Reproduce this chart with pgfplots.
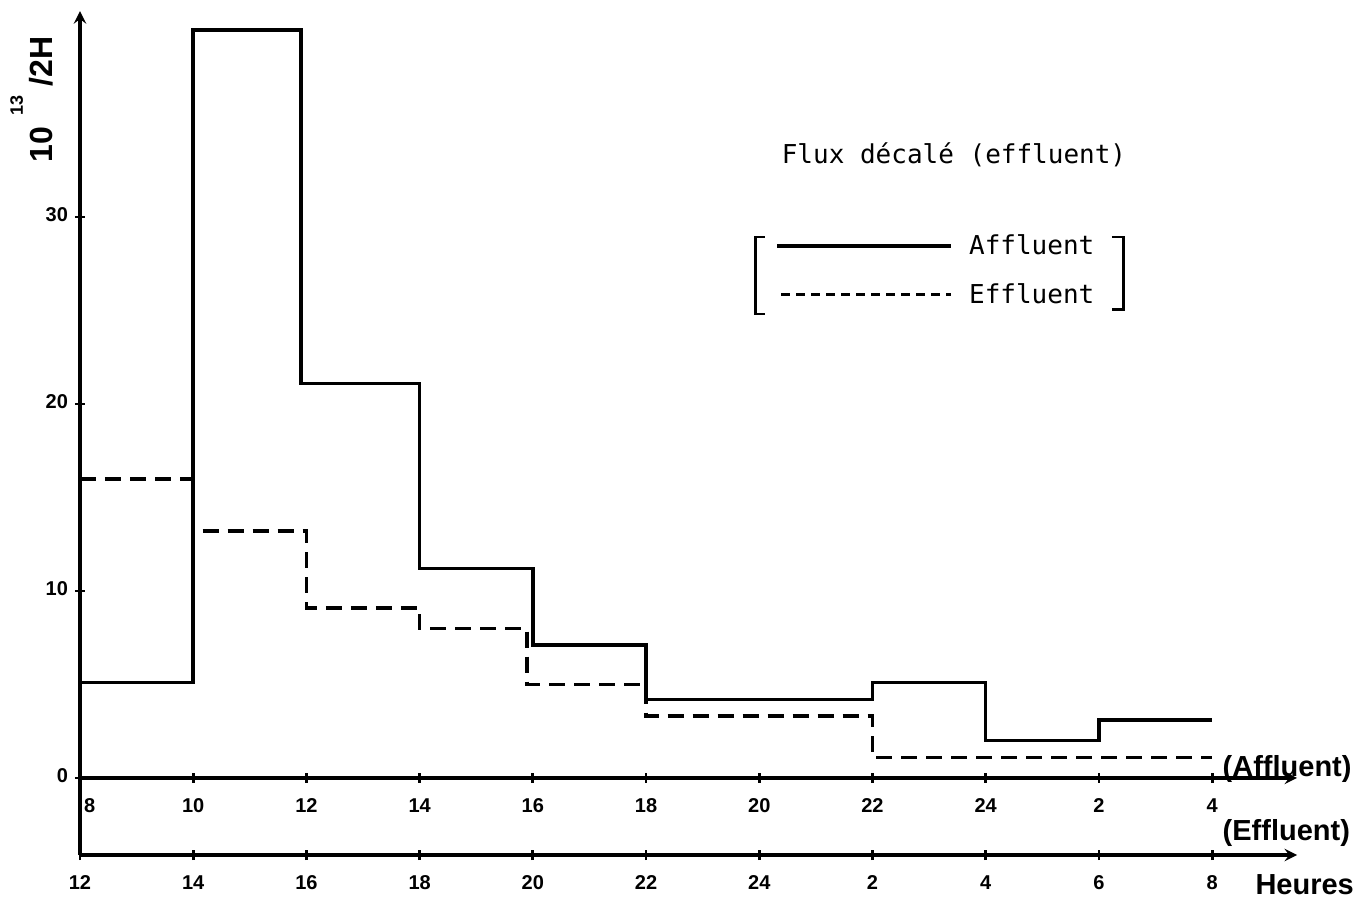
\documentclass[border=0pt]{standalone}
\usepackage{fontspec}
\setmainfont{Liberation Sans}
\newfontfamily\monof{DejaVu Sans Mono}
\usepackage{pgfplots}
\pgfplotsset{compat=1.18}
\usetikzlibrary{arrows.meta}
\begin{document}
\begin{tikzpicture}
\pgfplotsset{common/.style={
  scale only axis, width=608.5pt, height=421.9pt,
  xmin=0, xmax=21.5, ymin=-4.12, ymax=41,
  at={(0,0)}, anchor=south west, clip=false,
  axis line style={line width=1.7pt, -{Latex[length=11pt,width=6pt]}},
  tick style={line width=1.4pt, black}, major tick length=5pt, tick align=outside,
  ticklabel style={font=\fontsize{10}{12}\selectfont\bfseries},
  typeset ticklabels with strut,
  xticklabel shift=3pt,
  /pgf/number format/assume math mode=true,
  xtick={0,2,...,20},
  hide obscured x ticks=false, hide obscured y ticks=false,
}}
\begin{axis}[common,
  axis y line=left, axis x line=middle,
  xticklabels={\makebox[0pt][l]{\hspace{2pt}8},10,12,14,16,18,20,22,24,2,4},
  ytick={0,10,20,30},
  const plot,
  legend style={at={(axis cs:12.28,29.3)}, anchor=north west, draw=none, fill=none,
    font=\monof\fontsize{13}{15}\selectfont, row sep=9pt, inner sep=0pt},
  legend cell align=left,
  legend image code/.code={\draw[#1] (0pt,0pt) -- (87pt,0pt); \path (93pt,0pt);},
]
\addplot[black, line width=1.8pt] coordinates {
 (0,5.1) (2,40) (3.9,21.1) (6,11.2) (8,7.1) (10,4.2) (14,5.1) (16,2.0) (18,3.1) (20,3.1)};
\addlegendentry{Affluent}
\addplot[black, line width=1.8pt, dash pattern=on 8pt off 4.5pt,
  legend image code/.code={\draw[black, line width=1.6pt, dash pattern=on 4.5pt off 3pt] (2pt,0pt) -- (87pt,0pt); \path (93pt,0pt);}] coordinates {
 (0,16) (2,13.2) (4,9.1) (6,8.0) (7.9,5.0) (10,3.3) (14,1.1) (20,1.1)};
\addlegendentry{Effluent}
\draw[line width=1.4pt] (axis cs:12.10,28.93) -- (axis cs:11.93,28.93) -- (axis cs:11.93,24.81) -- (axis cs:12.10,24.81);
\draw[line width=1.4pt] (axis cs:18.23,28.93) -- (axis cs:18.43,28.93) -- (axis cs:18.43,25.03) -- (axis cs:18.23,25.03);
\node[font=\monof\fontsize{13}{15}\selectfont] at (axis cs:15.44,33.3) {Flux décalé (effluent)};
\node[anchor=west, font=\fontsize{14.5}{16}\selectfont\bfseries, inner sep=0pt] at (axis cs:20.18,0.5) {(Affluent)};
\node[anchor=west, font=\fontsize{14.5}{16}\selectfont\bfseries, inner sep=0pt] at (axis cs:20.18,-2.94) {(Effluent)};
\node[anchor=west, font=\fontsize{14.5}{16}\selectfont\bfseries, inner sep=0pt] at (axis cs:20.76,-5.72) {Heures};
\node[rotate=90, anchor=base west, inner sep=0pt, font=\fontsize{16}{18}\selectfont\bfseries] at (axis cs:-0.477,32.89)
  {10\hspace{5.5pt}\raisebox{15pt}{\fontsize{9}{10}\selectfont 13}\hspace{4.5pt}/2\hspace{0.5pt}H};
\end{axis}
\begin{axis}[common,
  axis x line=bottom, axis y line=none,
  xticklabels={12,14,16,18,20,22,24,2,4,6,8},
  ytick=\empty,
]
\end{axis}
\pgfresetboundingbox
\path (-40pt,-22.5pt) rectangle (641.5pt,427.5pt);
\end{tikzpicture}
\end{document}
